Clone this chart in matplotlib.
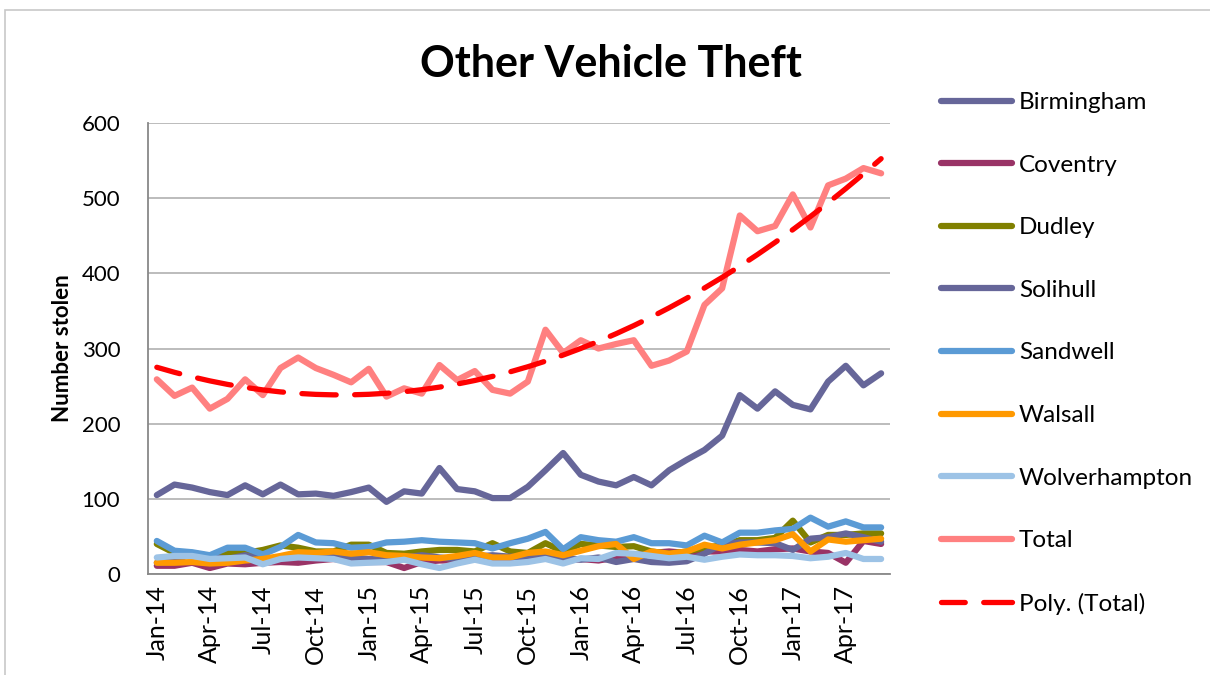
import numpy as np
import matplotlib.pyplot as plt
from matplotlib.patches import Rectangle

plt.rcParams['font.family'] = ['Lato', 'DejaVu Sans']

months = ["Jan", "Feb", "Mar", "Apr", "May", "Jun", "Jul", "Aug", "Sep", "Oct", "Nov", "Dec"]
labels = [f"{m}-{y}" for y in range(14, 18) for m in months][:42]

birmingham = [105, 119, 115, 109, 105, 118, 106, 119, 106, 107, 104, 109, 115, 96, 110, 107,
              141, 113, 110, 101, 101, 116, 138, 161, 132, 123, 118, 129, 118, 138, 152, 165,
              184, 238, 220, 243, 225, 219, 256, 277, 251, 267]
coventry = [11, 11, 15, 8, 14, 13, 15, 16, 15, 18, 20, 18, 16, 16, 8, 16, 18, 18, 24, 20, 18,
            18, 22, 17, 20, 18, 22, 25, 28, 30, 28, 30, 30, 32, 30, 33, 34, 30, 28, 15, 44, 40]
dudley = [40, 28, 25, 20, 28, 28, 32, 38, 35, 30, 30, 39, 39, 28, 27, 30, 32, 32, 30, 41, 30,
          28, 41, 30, 40, 38, 36, 37, 30, 27, 30, 35, 38, 45, 45, 48, 71, 42, 52, 52, 54, 54]
solihull = [15, 17, 28, 24, 20, 25, 20, 22, 26, 28, 24, 22, 20, 19, 22, 25, 22, 20, 23, 25, 23,
            23, 26, 22, 19, 22, 16, 20, 16, 15, 17, 27, 40, 42, 42, 41, 32, 47, 49, 54, 49, 43]
sandwell = [44, 31, 29, 25, 35, 35, 26, 36, 52, 42, 41, 35, 36, 42, 43, 45, 43, 42, 41, 34, 41,
            47, 56, 33, 49, 45, 43, 49, 41, 41, 38, 51, 42, 55, 55, 58, 60, 75, 63, 70, 62, 62]
walsall = [15, 15, 16, 14, 15, 18, 20, 24, 29, 28, 30, 27, 29, 25, 24, 22, 21, 24, 28, 22, 22,
           28, 30, 25, 31, 37, 40, 20, 30, 27, 30, 39, 34, 39, 42, 45, 53, 30, 46, 43, 45, 47]
wolverhampton = [22, 24, 24, 20, 21, 22, 13, 20, 22, 21, 20, 14, 15, 16, 19, 13, 8, 14, 19, 14,
                 14, 16, 20, 14, 21, 20, 28, 27, 24, 21, 23, 19, 23, 26, 25, 25, 24, 21, 23, 28,
                 20, 20]
total = [259, 237, 248, 220, 233, 259, 238, 274, 288, 274, 265, 255, 273, 236, 247, 240, 278,
         258, 270, 245, 240, 256, 325, 294, 311, 300, 306, 311, 277, 284, 296, 358, 380, 477,
         456, 463, 505, 461, 517, 526, 540, 533]

series = [
    ("Birmingham", birmingham, "#666699"),
    ("Coventry", coventry, "#993366"),
    ("Dudley", dudley, "#808000"),
    ("Solihull", solihull, "#666699"),
    ("Sandwell", sandwell, "#5B9BD5"),
    ("Walsall", walsall, "#FF9900"),
    ("Wolverhampton", wolverhampton, "#9DC3E6"),
    ("Total", total, "#FF8080"),
]

fig = plt.figure(figsize=(12.1, 6.75), dpi=100)
fig.patches.append(Rectangle((0.004, -0.01), 1.0, 0.995, transform=fig.transFigure,
                             fill=False, edgecolor="#C8C8C8", lw=1.2))
ax = fig.add_axes([0.1223, 0.1496, 0.6132, 0.6682])

x = np.arange(len(total))
for name, vals, c in series:
    ax.plot(x, vals, color=c, lw=4.5, label=name, solid_joinstyle="round",
            solid_capstyle="round")

# polynomial trendline of the total (Excel "Poly.", order 2)
coef = np.polyfit(x, total, 2)
ax.plot(x, np.polyval(coef, x), color="#FF0000", lw=3.8, ls=(2, (6.5, 3.5)),
        dash_capstyle="round", label="Poly. (Total)")

ax.set_xlim(-0.5, 41.5)
ax.set_ylim(0, 600)
ax.set_yticks(range(0, 601, 100))
ax.set_xticks(x[::3])
ax.set_xticklabels(labels[::3], rotation=90)
ax.tick_params(axis="y", labelsize=16, length=0, pad=20)
ax.tick_params(axis="x", labelsize=18, length=0, pad=8)
ax.grid(axis="y", color="#B0B0B0", lw=1.2)
ax.set_axisbelow(True)
for s in ["top", "right"]:
    ax.spines[s].set_visible(False)
for s in ["left", "bottom"]:
    ax.spines[s].set_color("#888888")
    ax.spines[s].set_linewidth(1.3)
ax.set_ylabel("Number stolen", fontsize=16, fontweight="bold", labelpad=6)

fig.suptitle("Other Vehicle Theft", x=0.505, y=0.935, fontsize=31, fontweight="bold")

ax.legend(loc="upper left", bbox_to_anchor=(1.056, 1.09), frameon=False, fontsize=17.5,
          handlelength=2.9, labelspacing=1.71, handletextpad=0.3, borderaxespad=0)

fig.savefig("out.png", dpi=100)
